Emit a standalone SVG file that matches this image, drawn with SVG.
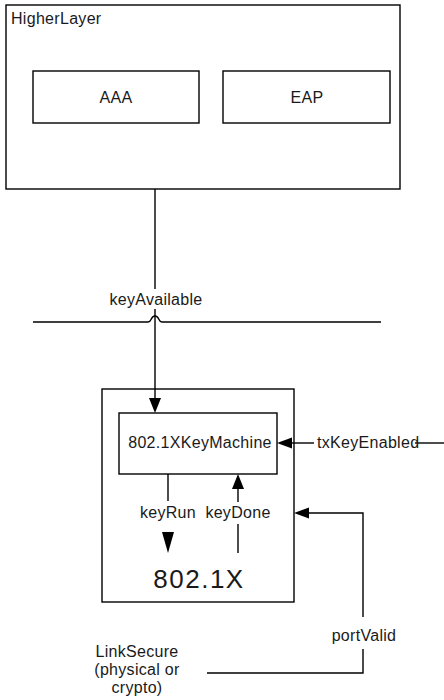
<svg xmlns="http://www.w3.org/2000/svg" width="444" height="700" viewBox="0 0 444 700">
  <style>
    .box { fill: #fff; stroke: #000; stroke-width: 1.4; }
    .wire { fill: none; stroke: #000; stroke-width: 1.4; }
    .head { fill: #000; stroke: none; }
    text { font-family: "Liberation Sans", Arial, sans-serif; font-size: 16px; fill: #1a1a1a; letter-spacing: 0.3px; }
    .mid { text-anchor: middle; }
    .big { font-size: 26px; letter-spacing: 1.5px; }
  </style>
  <rect width="444" height="700" fill="#fff"/>

  <g id="higher-layer">
    <rect class="box" x="6" y="5" width="394" height="184"/>
    <text x="11" y="24">HigherLayer</text>
  </g>
  <g id="aaa">
    <rect class="box" x="33" y="71" width="166" height="52"/>
    <text class="mid" x="116" y="103">AAA</text>
  </g>
  <g id="eap">
    <rect class="box" x="223" y="71" width="167" height="52"/>
    <text class="mid" x="307" y="103">EAP</text>
  </g>

  <g id="dot1x">
    <rect class="box" x="102" y="389" width="192" height="213"/>
    <text class="mid big" x="199" y="588">802.1X</text>
  </g>
  <g id="key-machine">
    <rect class="box" x="119" y="413" width="158" height="61"/>
    <text class="mid" x="200" y="448">802.1XKeyMachine</text>
  </g>

  <g id="link-secure">
    <text class="mid" x="137" y="657">LinkSecure</text>
    <text class="mid" x="137" y="675">(physical or</text>
    <text class="mid" x="137" y="693">crypto)</text>
  </g>

  <g id="connectors">
    <!-- layer boundary with a hop where keyAvailable crosses -->
    <path class="wire" d="M33 322 H148 Q150 322 151 319.5 Q152.5 316 155 316 Q157.5 316 159 319.5 Q160 322 162 322 H381"/>

    <!-- keyAvailable -->
    <path class="wire" d="M155 189 V289"/>
    <path class="wire" d="M155 309 V399"/>
    <path class="head" d="M149 398 L161 398 L155 413 Z"/>
    <text class="mid" x="156" y="305">keyAvailable</text>

    <!-- txKeyEnabled -->
    <path class="wire" d="M290 443 H314"/>
    <path class="wire" d="M415 443 H444"/>
    <path class="head" d="M277 443 L292 437.5 L292 448.5 Z"/>
    <text x="317" y="448">txKeyEnabled</text>

    <!-- keyRun -->
    <path class="wire" d="M168 474 V501"/>
    <path class="head" d="M162 532 L174 532 L168 553 Z"/>
    <text class="mid" x="168" y="518">keyRun</text>

    <!-- keyDone -->
    <path class="wire" d="M238 487 V502"/>
    <path class="wire" d="M238 524 V553"/>
    <path class="head" d="M238 474 L244 489 L232 489 Z"/>
    <text class="mid" x="238" y="518">keyDone</text>

    <!-- portValid -->
    <path class="wire" d="M308 513 H363 V617"/>
    <path class="wire" d="M363 649 V673 H207"/>
    <path class="head" d="M294 513 L309 507.5 L309 518.5 Z"/>
    <text class="mid" x="364" y="641">portValid</text>
  </g>
</svg>
